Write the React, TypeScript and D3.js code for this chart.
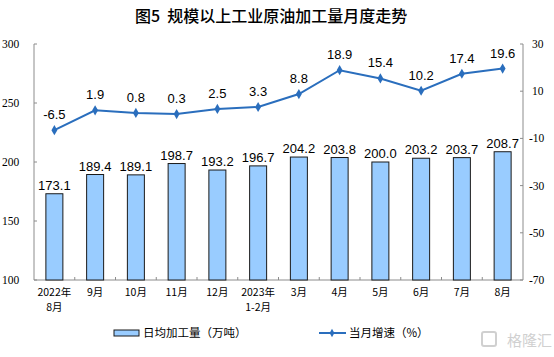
import React from "react";
import * as d3 from "d3";

const categories = ["2022年\n8月", "9月", "10月", "11月", "12月", "2023年\n1-2月", "3月", "4月", "5月", "6月", "7月", "8月"];
const barValues = [173.1, 189.4, 189.1, 198.7, 193.2, 196.7, 204.2, 203.8, 200.0, 203.2, 203.7, 208.7];
const lineValues = [-6.5, 1.9, 0.8, 0.3, 2.5, 3.3, 8.8, 18.9, 15.4, 10.2, 17.4, 19.6];
const leftTicks = [100, 150, 200, 250, 300];
const rightTicks = [-70, -50, -30, -10, 10, 30];

export default function App() {
  const W = 554, H = 357;
  const left = 34, right = 523, top = 44, bottom = 280;
  const x = d3.scaleBand<string>().domain(categories).range([left, right]).paddingInner(0).paddingOuter(0);
  const yL = d3.scaleLinear().domain([100, 300]).range([bottom, top]);
  const yR = d3.scaleLinear().domain([-70, 30]).range([bottom, top]);
  const bw = 17;
  const cx = (c: string) => (x(c) as number) + x.bandwidth() / 2;
  const line = d3.line<number>().x((_, i) => cx(categories[i])).y((d) => yR(d));
  const lineColor = "#2a6ebd";
  const axisColor = "#8c8c8c";
  const serif = "'Times New Roman', 'Liberation Serif', serif";
  const cjk = "'SimSun', 'Noto Sans CJK SC', sans-serif";
  const sans = "Arial, 'Liberation Sans', sans-serif";
  return (
    <svg width={W} height={H} style={{ position: "absolute", left: 0, top: 0, background: "#fff" }}>
      <text x={135} y={22} fontFamily="'Noto Sans CJK SC', sans-serif" fontSize={16} fontWeight={500} fill="#000">
        <tspan>图5</tspan>
        <tspan dx={7}>规模以上工业原油加工量月度走势</tspan>
      </text>
      {/* axes */}
      <line x1={left} x2={left} y1={top} y2={bottom} stroke={axisColor} />
      <line x1={right} x2={right} y1={top} y2={bottom} stroke={axisColor} />
      <line x1={left} x2={right} y1={bottom} y2={bottom} stroke={axisColor} />
      {leftTicks.map((t) => (
        <g key={"l" + t}>
          <line x1={left} x2={left + 3} y1={yL(t)} y2={yL(t)} stroke={axisColor} />
          <text x={2} y={yL(t) + 4} fontFamily={serif} fontSize={11.5} fill="#000">{t}</text>
        </g>
      ))}
      {rightTicks.map((t) => (
        <g key={"r" + t}>
          <line x1={right - 3} x2={right} y1={yR(t)} y2={yR(t)} stroke={axisColor} />
          <text x={t < 0 ? 529 : 532} y={yR(t) + 4} fontFamily={serif} fontSize={11.5} fill="#000">{t}</text>
        </g>
      ))}
      {categories.map((c, i) => i > 0 ? (
        <line key={"xt" + i} x1={x(c) as number} x2={x(c) as number} y1={bottom} y2={bottom - 3} stroke={axisColor} />
      ) : null)}
      {/* bars */}
      {barValues.map((v, i) => (
        <g key={"b" + i}>
          <rect x={cx(categories[i]) - bw / 2} y={yL(v)} width={bw} height={bottom - yL(v)} fill="#99ccff" stroke="#1a1a1a" strokeWidth={1} />
          <text x={cx(categories[i])} y={yL(v) - 4} textAnchor="middle" fontFamily={sans} fontSize={13} fill="#000">{v.toFixed(1)}</text>
        </g>
      ))}
      {/* line */}
      <path d={line(lineValues) || ""} fill="none" stroke={lineColor} strokeWidth={2} />
      {lineValues.map((v, i) => (
        <g key={"p" + i}>
          <path d={d3.symbol().type(d3.symbolDiamond).size(30)() || ""} transform={`translate(${cx(categories[i])},${yR(v)})`} fill={lineColor} />
          <text x={cx(categories[i])} y={yR(v) - 11} textAnchor="middle" fontFamily={sans} fontSize={13} fill="#000">{v.toFixed(1)}</text>
        </g>
      ))}
      {/* x labels */}
      {categories.map((c, i) => (
        <text key={"xl" + i} textAnchor="middle" fontFamily={cjk} fontSize={10.5} fill="#000">
          {c.split("\n").map((s, j) => (
            <tspan key={j} x={cx(c)} y={296 + j * 15}>{s}</tspan>
          ))}
        </text>
      ))}
      {/* legend */}
      <rect x={114} y={330} width={25} height={6} fill="#99ccff" stroke="#1a1a1a" strokeWidth={1} />
      <text x={143} y={337} fontFamily={cjk} fontSize={11.5} fill="#000">日均加工量（万吨）</text>
      <line x1={319} x2={346} y1={333} y2={333} stroke={lineColor} strokeWidth={2} />
      <path d={d3.symbol().type(d3.symbolDiamond).size(20)() || ""} transform="translate(332,333)" fill={lineColor} />
      <text x={349} y={337} fontFamily={cjk} fontSize={11.5} fill="#000">当月增速（%）</text>
      {/* watermark */}
      <rect x={482} y={332} width={14} height={14} rx={2} fill="none" stroke="#d0d0d0" strokeWidth={2} />
      <text x={552} y={346} textAnchor="end" fontFamily="'Noto Sans CJK SC', sans-serif" fontSize={15} fill="#d0d0d0">格隆汇</text>
    </svg>
  );
}
